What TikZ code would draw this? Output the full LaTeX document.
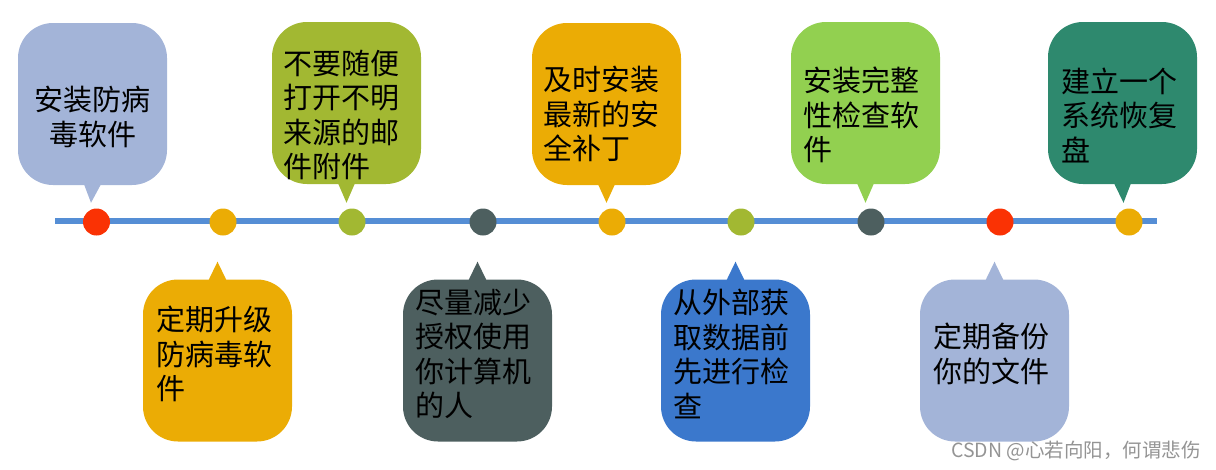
\documentclass[tikz,border=0pt]{standalone}
\usepackage{fontspec}
\newfontfamily\cjk{Noto Sans CJK SC}
\usetikzlibrary{calc}
\definecolor{cgrey}{HTML}{A3B4D8}
\definecolor{colive}{HTML}{A2B832}
\definecolor{corange}{HTML}{EBAC05}
\definecolor{cgreen}{HTML}{92D050}
\definecolor{cteal}{HTML}{2E896E}
\definecolor{cslate}{HTML}{4D5F5F}
\definecolor{cblue}{HTML}{3B78CC}
\definecolor{cred}{HTML}{FA3204}
\definecolor{cline}{HTML}{558ED5}
\begin{document}
\begin{tikzpicture}[x=1pt,y=-1pt,
  bubble/.style={rounded corners=35pt, minimum width=149pt, minimum height=162pt, inner sep=0pt, fill=#1, draw=none},
  dotnode/.style={circle, minimum size=27pt, inner sep=0pt, fill=#1, draw=none},
  txt/.style={font=\cjk\fontsize{29}{34.5}\selectfont, align=left, inner sep=0pt, text=black},
  wmark/.style={font=\cjk\fontsize{19.5}{19.5}\selectfont, inner sep=0pt, text=black!42}]
\useasboundingbox (0,0) rectangle (1216,469);
% timeline
\coordinate (L) at (55,221);
\coordinate (R) at (1157,221);
\draw[line width=5.5pt, cline] (L) -- (R);
% dots
\node[dotnode=cred]    (d1) at (96.5,222) {};
\node[dotnode=corange] (d2) at (223,222) {};
\node[dotnode=colive]  (d3) at (352,222) {};
\node[dotnode=cslate]  (d4) at (483,222) {};
\node[dotnode=corange] (d5) at (612,222) {};
\node[dotnode=colive]  (d6) at (741,222) {};
\node[dotnode=cslate]  (d7) at (871,222) {};
\node[dotnode=cred]    (d8) at (1000,222) {};
\node[dotnode=corange] (d9) at (1129,222) {};
% top bubbles
\node[bubble=cgrey]   (b1) at (92.5,104) {};
\node[bubble=colive]  (b3) at (346.5,103) {};
\node[bubble=corange] (b5) at (606.5,104) {};
\node[bubble=cgreen]  (b7) at (865.5,103) {};
\node[bubble=cteal]   (b9) at (1122.5,103) {};
% bottom bubbles
\node[bubble=corange] (b2) at (217.5,360.5) {};
\node[bubble=cslate]  (b4) at (477.5,360.5) {};
\node[bubble=cblue]   (b6) at (735.5,360.5) {};
\node[bubble=cgrey]   (b8) at (994.5,360.5) {};
% tails top
\foreach \b/\d/\c in {b1/d1/cgrey, b3/d3/colive, b5/d5/corange, b7/d7/cgreen, b9/d9/cteal}{
  \fill[\c] ([xshift=-8.5pt,yshift=1pt]\b.south) -- ([xshift=8.5pt,yshift=1pt]\b.south) -- ($(\d.north)+(-5.5,-5.5)$) -- cycle;
}
% tails bottom
\foreach \b/\d/\c in {b2/d2/corange, b4/d4/cslate, b6/d6/cblue, b8/d8/cgrey}{
  \fill[\c] ([xshift=-9pt,yshift=-1pt]\b.north) -- ([xshift=9pt,yshift=-1pt]\b.north) -- ($(\d.south)+(-5.5,26)$) -- cycle;
}
% texts
\node[txt, align=center] (t1) at (92.5,117) {安装防病\\毒软件};
\node[txt, anchor=west] (t3) at (283,115) {不要随便\\打开不明\\来源的邮\\件附件};
\node[txt, anchor=west] (t5) at (543,114) {及时安装\\最新的安\\全补丁};
\node[txt, anchor=west] (t7) at (803,115) {安装完整\\性检查软\\件};
\node[txt, anchor=west] (t9) at (1061,115) {建立一个\\系统恢复\\盘};
\node[txt, anchor=west] (t2) at (156,354) {定期升级\\防病毒软\\件};
\node[txt, anchor=west] (t4) at (415,354) {尽量减少\\授权使用\\你计算机\\的人};
\node[txt, anchor=west] (t6) at (673,354) {从外部获\\取数据前\\先进行检\\查};
\node[txt, anchor=west] (t8) at (933,354) {定期备份\\你的文件};
% watermark
\node[wmark, anchor=east] (wm) at (1201,451) {CSDN @心若向阳，何谓悲伤};
\end{tikzpicture}
\end{document}
